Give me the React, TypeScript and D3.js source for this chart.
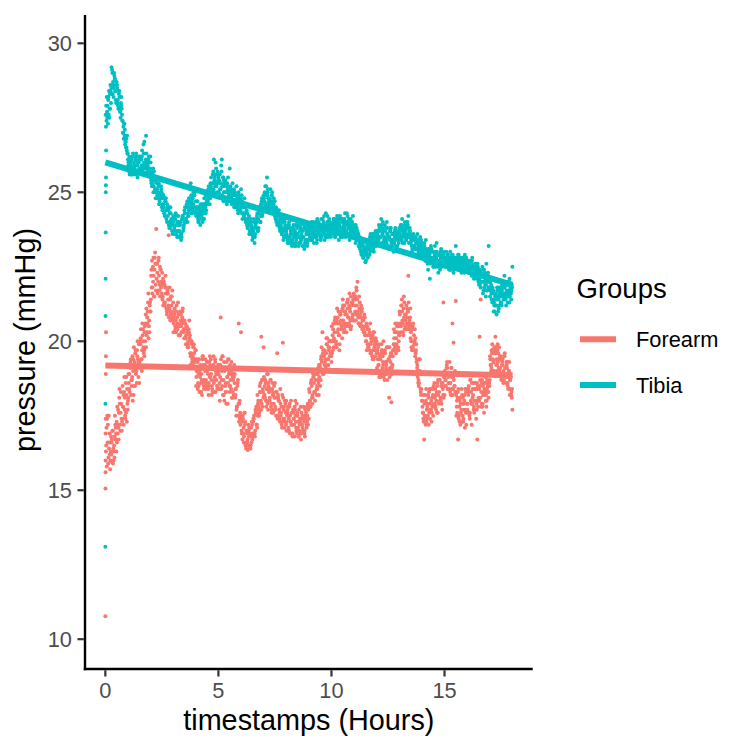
import React from "react";
import * as d3 from "d3";

// ---------- data ----------
const groups = ["Forearm", "Tibia"];
const groupColors = ["#F8766D", "#00BFC4"];
const xTicks = [0, 5, 10, 15];
const yTicks = [10, 15, 20, 25, 30];
const yLimits = [9.0, 30.95];
const sampleStep = 0.05; // hours between samples of each sample row

// linear-fit (geom_smooth, method = lm) coefficients
const fitIntercept = [19.19, 26.0];
const fitSlope = [-0.0183, -0.228];

// start-up ramp (first seconds of recording)
const forearmStartX = [0.0, 0.004, 0.008, 0.012, 0.016, 0.02, 0.024, 0.028];
const forearmStartY = [10.77, 15.06, 15.6, 16.0, 17.4, 18.9, 19.5, 20.3];
const tibiaStartX = [0.0, 0.004, 0.008, 0.012, 0.016, 0.02, 0.024, 0.028, 0.032];
const tibiaStartY = [13.1, 17.9, 20.85, 22.1, 23.65, 25.0, 25.24, 25.5, 26.4];

// Four interleaved sample rows per group; one line per hour (20 samples each).
// forearmY / tibiaY: samples at h+0.05 ... h+1.00
const forearmY = [
  17.1, 16.6, 17.5, 16.2, 16.8, 15.95, 16.4, 16.1, 16.7, 17.3, 16.9, 17.6, 17.2, 17.9, 17.4, 18.2, 17.7, 18.6, 17.3, 18.0,
  18.4, 19.1, 18.7, 19.5, 18.2, 19.3, 18.9, 19.7, 19.2, 18.6, 19.9, 19.4, 20.2, 19.6, 20.5, 19.8, 20.8, 21.6, 20.3, 21.0,
  21.8, 22.5, 21.5, 22.98, 23.77, 22.3, 22.7, 21.9, 22.4, 21.6, 22.1, 21.3, 21.8, 21.1, 21.7, 23.56, 21.0, 21.5, 20.8, 21.3,
  20.9, 20.4, 21.2, 20.6, 20.2, 21.0, 20.5, 20.8, 20.3, 20.7, 20.1, 20.5, 19.9, 20.3, 19.6, 20.0, 19.4, 19.8, 19.3, 19.7,
  19.1, 18.6, 19.4, 18.3, 18.9, 19.5, 18.5, 19.2, 18.7, 19.0, 18.4, 19.3, 18.8, 18.2, 19.1, 18.6, 19.4, 18.9, 18.4, 19.0,
  18.6, 20.8, 19.0, 18.2, 19.3, 18.5, 17.9, 18.8, 19.4, 18.3, 18.9, 18.1, 18.7, 19.2, 18.4, 17.7, 18.6, 20.6, 17.4, 20.3,
  17.3, 16.9, 17.6, 16.5, 17.0, 16.35, 16.8, 16.4, 17.1, 16.7, 17.4, 16.9, 17.6, 17.2, 17.9, 17.5, 18.3, 20.15, 17.8, 19.8,
  18.5, 18.0, 18.9, 17.7, 18.3, 18.7, 17.6, 18.2, 17.9, 18.6, 17.5, 19.6, 18.1, 17.4, 17.9, 17.2, 19.95, 17.8, 17.3, 18.0,
  17.6, 17.1, 17.9, 17.3, 16.9, 17.7, 17.2, 18.0, 17.0, 17.5, 16.8, 17.4, 16.7, 17.2, 17.8, 16.9, 17.5, 17.1, 17.9, 17.4,
  18.0, 18.6, 17.9, 18.8, 18.3, 18.9, 18.2, 18.7, 19.2, 18.5, 19.5, 20.3, 18.9, 19.7, 19.1, 19.9, 19.4, 20.0, 19.6, 19.3,
  20.2, 19.8, 20.7, 20.0, 21.1, 20.4, 19.7, 20.9, 20.5, 21.4, 20.3, 21.0, 20.6, 21.3, 20.8, 21.6, 20.4, 21.2, 20.7, 21.5,
  21.0, 21.8, 22.0, 20.6, 21.3, 20.8, 21.1, 20.4, 20.9, 20.2, 20.6, 19.9, 20.4, 19.7, 20.1, 19.5, 20.3, 19.8, 20.0, 19.6,
  19.4, 19.9, 18.9, 19.6, 19.1, 20.0, 18.7, 19.3, 19.8, 19.0, 18.1, 19.5, 17.95, 19.2, 19.9, 20.3, 19.6, 20.5, 19.8, 20.2,
  20.6, 21.2, 20.3, 21.5, 20.9, 20.4, 21.1, 22.2, 20.7, 20.1, 20.5, 19.8, 20.2, 19.5, 19.9, 19.2, 18.7, 19.4, 18.3, 18.0,
  17.6, 16.7, 18.2, 17.3, 17.9, 17.2, 18.4, 17.7, 18.1, 17.5, 18.6, 17.8, 18.3, 17.6, 18.9, 18.0, 18.5, 17.7, 21.3, 18.2,
  18.7, 19.2, 18.4, 18.9, 18.3, 19.1, 20.6, 19.95, 18.5, 21.35, 18.0, 16.7, 17.8, 17.2, 18.4, 17.5, 17.9, 17.1, 18.3, 17.6,
  18.2, 17.5, 18.7, 17.2, 18.4, 17.8, 18.9, 17.4, 16.7, 18.1, 20.15, 21.4, 17.9, 18.5, 17.6, 18.3, 17.8, 18.6, 18.1, 18.7,
  19.2, 19.6, 19.0, 19.8, 20.15, 19.4, 19.9, 19.1, 19.5, 18.8, 19.3, 18.6, 19.5, 18.9, 19.2, 18.5, 19.0, 18.7, 18.2, 17.7,
];

// samples at h+0.025 ... h+0.975
const forearmMidY = [
  16.3, 17.4, 15.9, 16.6, 16.0, 16.6, 17.0, 16.3, 17.5, 16.9, 17.8, 17.1, 18.4, 17.6, 17.0, 17.8, 18.3, 17.5, 18.8, 17.9,
  18.9, 18.3, 19.4, 18.7, 19.0, 18.5, 19.6, 19.0, 20.0, 19.3, 19.1, 20.4, 19.7, 20.0, 19.5, 20.6, 20.2, 21.0, 20.5, 21.3,
  22.2, 21.6, 22.8, 22.4, 21.9, 22.6, 21.7, 22.2, 21.5, 22.0, 21.4, 21.9, 21.2, 21.6, 20.9, 21.4, 21.1, 20.7, 21.2, 20.9,
  20.6, 21.0, 20.3, 20.8, 20.5, 20.2, 20.7, 20.3, 21.1, 20.4, 20.6, 20.2, 20.4, 19.8, 20.1, 19.5, 19.9, 19.2, 19.6, 19.4,
  18.8, 19.3, 18.5, 19.0, 18.6, 18.2, 19.2, 18.7, 19.4, 18.5, 19.1, 18.6, 19.5, 18.9, 18.4, 19.2, 18.7, 18.3, 19.1, 18.5,
  19.2, 18.8, 18.4, 19.5, 18.7, 19.0, 18.3, 19.1, 18.6, 19.0, 18.5, 19.3, 18.8, 18.2, 18.9, 18.4, 17.8, 17.5, 17.9, 17.2,
  17.0, 17.5, 16.6, 17.2, 16.4, 16.6, 17.2, 16.9, 16.5, 17.3, 16.8, 17.5, 17.0, 17.8, 18.2, 17.7, 18.5, 18.0, 18.7, 18.3,
  18.2, 18.7, 18.4, 17.9, 18.5, 18.1, 17.8, 18.4, 17.6, 18.1, 17.7, 18.3, 17.5, 18.0, 17.3, 17.6, 18.2, 17.4, 17.1, 17.6,
  17.3, 17.8, 17.0, 17.5, 17.2, 16.8, 17.4, 17.8, 17.3, 16.9, 17.3, 17.0, 16.9, 17.6, 17.1, 17.4, 16.8, 17.6, 17.3, 17.7,
  18.3, 17.8, 18.5, 18.1, 18.6, 18.0, 18.9, 18.4, 18.6, 19.0, 18.7, 19.3, 19.6, 19.0, 19.4, 20.1, 19.2, 19.8, 19.5, 20.0,
  19.6, 20.4, 20.0, 20.6, 19.8, 20.8, 20.2, 20.6, 21.0, 20.1, 20.7, 21.2, 20.5, 20.9, 21.4, 20.6, 21.0, 20.5, 21.3, 20.9,
  21.4, 20.7, 21.2, 20.9, 21.5, 20.5, 21.0, 20.7, 20.3, 20.8, 20.0, 20.5, 19.8, 20.2, 19.6, 20.0, 19.4, 20.1, 19.7, 19.9,
  19.7, 19.2, 19.5, 18.8, 19.7, 19.3, 18.9, 19.6, 19.2, 18.7, 19.4, 18.8, 19.6, 19.1, 19.7, 20.1, 20.6, 19.9, 20.3, 20.0,
  20.9, 20.5, 21.0, 20.2, 21.3, 20.7, 20.4, 21.0, 20.5, 20.8, 20.0, 20.4, 19.7, 20.0, 19.6, 19.4, 19.0, 18.6, 18.9, 18.4,
  17.8, 17.3, 17.5, 18.0, 17.4, 18.2, 17.6, 17.9, 17.3, 18.4, 17.9, 18.1, 17.7, 18.5, 18.2, 18.7, 18.1, 18.6, 18.4, 18.8,
  18.5, 18.9, 19.1, 18.6, 19.3, 18.2, 18.8, 18.4, 18.9, 18.3, 17.5, 18.1, 17.4, 18.0, 17.6, 18.2, 17.3, 18.0, 17.7, 18.4,
  17.9, 18.5, 17.6, 18.3, 17.9, 18.6, 18.0, 18.4, 17.7, 18.5, 18.0, 18.7, 18.3, 17.8, 18.2, 18.6, 18.0, 18.4, 18.9, 18.6,
  19.4, 19.1, 19.7, 19.3, 19.6, 19.8, 19.2, 19.6, 19.0, 19.4, 18.9, 19.2, 18.7, 19.1, 18.6, 19.3, 18.8, 18.4, 18.9, 18.1,
];

// samples at h+0.0125 ... h+0.9625
const forearmQ1Y = [
  16.9, 15.8, 17.2, 16.4, 15.7, 16.2, 17.0, 16.0, 16.8, 17.1, 16.6, 17.7, 18.1, 17.0, 17.4, 18.5, 17.2, 18.1, 17.6, 18.4,
  18.1, 18.9, 19.3, 18.5, 18.0, 19.8, 18.5, 19.0, 19.5, 18.8, 19.3, 20.1, 19.0, 20.4, 19.7, 20.0, 21.1, 20.6, 20.1, 21.2,
  21.4, 22.7, 22.0, 21.5, 22.6, 22.1, 21.6, 22.8, 22.5, 21.8, 22.3, 21.2, 21.9, 22.2, 21.0, 21.6, 20.8, 21.4, 21.0, 21.7,
  20.3, 21.1, 20.7, 20.5, 21.3, 20.9, 20.2, 20.6, 21.0, 20.4, 20.6, 19.9, 20.3, 20.0, 20.7, 19.2, 20.0, 19.5, 19.9, 19.1,
  18.5, 19.4, 18.9, 18.3, 19.2, 18.7, 19.5, 18.4, 19.0, 18.6, 19.3, 18.2, 18.8, 19.4, 18.5, 19.1, 18.3, 19.3, 18.7, 18.9,
  18.9, 18.0, 19.4, 18.5, 19.1, 18.0, 18.6, 19.3, 17.9, 18.9, 19.2, 18.4, 18.1, 18.9, 18.6, 18.2, 17.8, 18.7, 17.3, 17.6,
  17.5, 16.7, 17.1, 17.6, 16.6, 16.9, 16.5, 17.1, 16.4, 16.6, 16.9, 17.4, 16.8, 17.6, 17.1, 18.0, 17.6, 18.6, 17.9, 18.4,
  18.8, 18.1, 17.8, 18.4, 18.6, 18.0, 18.7, 17.7, 18.3, 18.5, 17.8, 18.3, 17.4, 18.0, 17.6, 17.5, 17.1, 18.1, 17.4, 17.9,
  17.0, 17.7, 17.4, 16.9, 18.0, 17.2, 17.6, 16.8, 17.5, 17.9, 17.1, 17.7, 17.3, 16.9, 17.5, 17.8, 17.0, 17.4, 17.8, 17.2,
  18.4, 17.8, 18.7, 18.2, 18.8, 18.3, 19.0, 18.5, 19.1, 18.8, 19.1, 19.8, 18.9, 19.5, 19.3, 19.6, 20.1, 19.2, 19.8, 20.0,
  20.5, 19.7, 20.1, 20.8, 19.9, 20.3, 21.0, 19.9, 20.7, 20.5, 21.2, 20.4, 20.9, 20.3, 21.1, 20.5, 21.1, 21.5, 20.8, 21.4,
  20.7, 21.5, 21.7, 21.0, 20.6, 20.9, 21.2, 20.4, 20.7, 20.3, 20.5, 19.7, 20.2, 19.9, 20.6, 19.6, 20.2, 19.4, 19.9, 20.1,
  19.1, 19.8, 18.8, 19.4, 19.9, 19.5, 18.8, 19.7, 19.1, 18.9, 19.0, 19.8, 19.3, 18.9, 19.5, 20.4, 19.8, 20.1, 20.6, 19.7,
  21.0, 20.3, 21.4, 20.6, 20.8, 20.5, 21.2, 20.8, 21.3, 20.6, 20.3, 19.7, 20.6, 19.9, 20.1, 19.3, 18.8, 18.5, 19.0, 18.2,
  18.0, 17.4, 17.9, 17.2, 17.7, 17.5, 18.3, 17.4, 18.0, 17.8, 18.5, 17.9, 18.2, 17.6, 18.7, 18.3, 18.9, 17.9, 18.6, 18.1,
  19.0, 18.5, 19.3, 18.8, 18.4, 18.6, 19.1, 18.2, 18.7, 19.0, 18.2, 17.6, 18.4, 17.3, 17.9, 17.3, 18.1, 17.7, 18.4, 17.2,
  17.7, 18.4, 17.4, 18.0, 18.6, 18.2, 17.6, 18.6, 17.9, 18.4, 18.0, 18.5, 17.8, 18.7, 18.2, 18.4, 18.8, 18.0, 18.5, 18.9,
  19.5, 19.0, 19.9, 19.3, 19.7, 19.6, 19.0, 19.3, 19.8, 19.1, 18.7, 19.4, 19.0, 19.6, 18.8, 19.1, 18.4, 19.3, 18.7, 18.3,
];

// samples at h+0.0375 ... h+0.9875
const forearmQ3Y = [
  16.5, 17.5, 16.1, 16.9, 16.3, 16.7, 15.9, 16.5, 17.2, 16.3, 17.2, 16.7, 17.9, 18.3, 17.3, 17.8, 18.8, 17.4, 18.2, 17.7,
  18.6, 19.2, 18.2, 18.8, 19.4, 19.1, 19.7, 18.6, 19.4, 19.9, 20.0, 19.4, 20.6, 19.8, 20.3, 20.9, 20.3, 21.3, 20.7, 21.0,
  22.4, 21.8, 22.2, 22.8, 21.7, 22.6, 22.0, 21.7, 22.4, 21.9, 21.5, 22.0, 21.3, 21.8, 21.6, 21.2, 21.8, 20.9, 21.5, 20.7,
  20.8, 20.5, 21.0, 20.4, 20.9, 20.5, 20.9, 20.3, 20.7, 20.1, 20.1, 20.5, 19.8, 20.4, 20.2, 19.6, 19.3, 19.8, 19.4, 19.7,
  19.0, 18.4, 19.1, 18.8, 18.3, 19.4, 18.6, 19.1, 18.4, 19.3, 18.9, 18.5, 19.2, 18.7, 18.3, 19.5, 18.8, 19.0, 18.5, 19.2,
  18.4, 19.2, 18.7, 19.5, 18.2, 19.1, 18.3, 18.8, 19.4, 18.5, 18.7, 19.0, 18.3, 18.8, 18.1, 17.5, 18.5, 17.9, 18.0, 17.4,
  16.9, 17.4, 16.8, 17.3, 17.0, 16.7, 17.0, 16.5, 16.8, 17.2, 17.3, 16.9, 17.7, 17.2, 17.5, 17.8, 18.3, 17.7, 18.7, 18.1,
  18.2, 18.6, 18.0, 18.9, 18.3, 18.4, 17.9, 18.6, 18.2, 17.7, 18.1, 17.5, 18.2, 17.7, 18.4, 17.8, 17.3, 17.7, 18.0, 17.2,
  17.5, 17.0, 17.8, 17.3, 17.6, 16.9, 17.4, 17.7, 17.1, 17.6, 16.8, 17.2, 17.8, 17.4, 17.0, 17.3, 17.7, 17.2, 17.5, 17.9,
  18.0, 18.6, 18.1, 18.9, 18.3, 18.7, 18.4, 18.9, 18.2, 19.2, 19.4, 19.0, 19.7, 19.2, 19.6, 19.9, 19.4, 19.7, 20.0, 19.5,
  20.0, 20.6, 20.3, 19.8, 20.7, 20.6, 20.2, 20.9, 20.4, 21.1, 20.6, 21.0, 20.5, 21.3, 20.8, 21.2, 20.7, 21.3, 20.9, 21.6,
  21.2, 20.9, 21.4, 20.8, 21.1, 20.6, 21.0, 20.5, 20.8, 20.2, 20.0, 20.4, 19.8, 20.3, 19.9, 20.0, 19.7, 20.3, 19.5, 20.0,
  19.6, 19.2, 19.5, 18.9, 19.7, 19.2, 19.6, 18.9, 19.3, 19.8, 19.4, 19.1, 19.6, 19.2, 19.7, 19.9, 20.3, 19.7, 20.5, 20.2,
  20.5, 21.2, 20.7, 21.1, 20.4, 20.9, 20.6, 21.0, 20.4, 21.1, 19.8, 20.5, 20.0, 20.4, 19.7, 19.1, 18.6, 19.4, 18.4, 18.9,
  17.6, 18.2, 17.5, 18.4, 17.8, 18.1, 17.7, 18.4, 17.6, 18.2, 17.8, 18.4, 18.0, 18.6, 17.9, 18.7, 18.0, 18.5, 18.2, 18.8,
  18.7, 19.1, 18.4, 18.9, 18.6, 18.9, 18.4, 18.8, 18.5, 18.3, 17.8, 18.3, 17.5, 18.1, 17.7, 17.9, 17.4, 18.2, 17.6, 17.9,
  18.3, 17.6, 18.7, 17.9, 18.1, 17.7, 18.4, 18.0, 18.6, 17.8, 18.4, 18.1, 18.6, 17.9, 18.3, 18.6, 18.2, 18.7, 18.3, 18.5,
  19.2, 19.7, 19.4, 19.0, 19.6, 19.2, 19.7, 19.4, 19.0, 19.5, 19.2, 18.9, 19.5, 19.1, 19.3, 18.6, 19.0, 18.2, 18.8, 18.4,
];

const tibiaY = [
  27.4, 27.9, 27.6, 28.3, 28.0, 29.1, 28.6, 28.9, 28.4, 28.7, 28.1, 28.3, 27.7, 27.9, 27.4, 27.2, 26.9, 26.7, 26.4, 26.1,
  25.7, 26.0, 25.6, 26.2, 25.8, 25.9, 26.1, 25.6, 26.0, 25.8, 26.2, 25.9, 25.7, 26.3, 25.9, 26.9, 25.8, 26.1, 25.7, 26.0,
  25.6, 25.3, 25.7, 25.1, 25.4, 24.9, 25.2, 24.7, 25.0, 24.5, 24.9, 24.3, 24.7, 24.1, 24.5, 23.9, 24.3, 24.0, 23.7, 24.2,
  23.8, 24.2, 23.6, 24.0, 23.5, 23.9, 23.4, 24.1, 23.8, 24.4, 24.0, 24.6, 24.3, 24.8, 24.4, 24.9, 24.5, 25.0, 24.3, 24.7,
  24.5, 24.1, 24.4, 23.9, 24.3, 24.0, 24.6, 24.4, 24.9, 24.6, 25.1, 24.8, 25.3, 24.9, 25.6, 26.1, 25.2, 25.8, 25.0, 25.5,
  25.3, 24.9, 26.1, 25.5, 25.0, 25.4, 24.8, 25.2, 24.7, 25.8, 25.1, 24.6, 25.0, 24.5, 24.9, 25.2, 24.6, 24.9, 24.4, 25.1,
  24.7, 24.3, 24.8, 24.1, 24.4, 23.8, 24.2, 23.6, 23.9, 23.4, 23.7, 23.3, 23.9, 24.2, 23.7, 24.4, 24.0, 24.6, 24.3, 24.9,
  25.0, 24.5, 25.5, 24.8, 24.4, 25.1, 24.6, 24.3, 24.8, 24.2, 24.5, 23.9, 24.3, 23.8, 24.1, 23.6, 24.0, 23.5, 23.9, 23.7,
  23.4, 23.9, 23.3, 23.7, 23.2, 23.8, 23.5, 23.3, 23.6, 23.9, 23.2, 23.7, 23.4, 24.0, 23.5, 23.1, 23.8, 23.4, 23.9, 23.6,
  23.5, 23.9, 23.4, 23.8, 23.6, 24.0, 23.3, 23.7, 23.9, 23.5, 24.1, 23.6, 24.0, 23.4, 24.3, 23.8, 23.5, 24.1, 23.7, 23.9,
  23.8, 24.1, 23.5, 23.9, 24.2, 23.6, 24.0, 23.7, 24.1, 23.5, 23.9, 24.3, 23.6, 24.0, 23.8, 23.4, 24.1, 23.7, 24.2, 23.6,
  23.8, 23.4, 23.7, 23.2, 23.5, 23.0, 23.3, 22.8, 23.1, 22.65, 23.0, 23.3, 22.9, 23.5, 23.2, 23.6, 23.1, 23.4, 23.7, 23.3,
  23.5, 23.9, 23.2, 24.1, 23.6, 23.3, 23.8, 23.4, 24.0, 23.5, 23.1, 23.7, 23.3, 23.6, 23.0, 23.5, 23.2, 23.7, 23.4, 23.8,
  23.5, 23.9, 23.3, 23.7, 24.0, 23.4, 23.8, 24.2, 23.5, 23.6, 23.2, 23.5, 22.9, 23.4, 23.1, 23.6, 23.0, 23.3, 22.9, 23.2,
  23.0, 23.3, 22.7, 23.1, 22.6, 22.9, 22.1, 23.2, 22.8, 22.5, 23.0, 22.7, 23.3, 22.5, 22.9, 22.4, 23.1, 22.6, 22.8, 22.5,
  22.8, 22.5, 22.9, 22.4, 23.0, 22.6, 22.8, 22.3, 22.7, 23.2, 22.5, 22.9, 22.4, 22.7, 22.3, 22.8, 22.5, 22.9, 22.4, 22.6,
  22.6, 22.3, 22.7, 22.2, 22.5, 22.1, 22.6, 22.3, 22.4, 22.0, 22.3, 21.8, 22.2, 21.6, 22.4, 21.9, 22.6, 21.7, 23.2, 22.0,
  21.8, 21.4, 22.1, 21.2, 21.6, 20.9, 21.5, 21.1, 21.8, 21.3, 21.9, 21.5, 22.2, 21.4, 21.7, 21.3, 22.0, 21.6, 21.4, 22.5,
];

const tibiaMidY = [
  27.2, 27.7, 28.1, 27.5, 28.6, 29.2, 28.3, 28.5, 28.8, 28.0, 28.5, 27.8, 28.2, 27.5, 27.8, 27.0, 27.3, 26.6, 26.8, 26.3,
  26.0, 25.6, 26.1, 25.8, 26.3, 25.7, 25.9, 26.2, 25.5, 26.0, 25.7, 26.1, 26.4, 25.8, 26.7, 26.0, 25.6, 25.9, 26.2, 25.8,
  25.4, 25.7, 25.0, 25.5, 24.8, 25.3, 25.0, 24.6, 24.8, 25.1, 24.4, 24.6, 24.2, 24.8, 24.0, 24.4, 23.8, 24.5, 24.0, 23.6,
  24.1, 23.7, 23.9, 23.5, 24.2, 23.7, 24.0, 23.5, 24.2, 23.9, 24.5, 24.1, 24.7, 24.2, 24.6, 25.3, 24.7, 24.4, 24.9, 24.5,
  24.3, 24.7, 24.0, 24.5, 24.2, 24.6, 24.3, 24.8, 24.5, 25.0, 24.7, 25.2, 24.9, 25.5, 25.1, 25.7, 25.4, 26.0, 25.3, 24.9,
  25.6, 25.1, 25.9, 25.2, 24.7, 25.3, 25.0, 24.6, 25.5, 24.9, 25.2, 24.8, 25.3, 24.7, 25.0, 24.5, 24.8, 24.3, 24.7, 24.4,
  24.9, 24.5, 24.2, 24.6, 24.0, 24.3, 23.9, 24.0, 23.6, 23.8, 23.5, 24.1, 23.6, 24.0, 24.3, 23.8, 24.5, 24.2, 24.8, 24.5,
  24.7, 25.2, 24.6, 25.0, 24.6, 24.8, 24.4, 25.0, 24.5, 24.7, 24.1, 24.4, 24.0, 24.4, 23.7, 24.2, 23.8, 23.4, 24.1, 23.5,
  23.8, 23.5, 24.0, 23.4, 23.6, 23.3, 23.9, 23.6, 23.2, 23.8, 23.5, 23.3, 23.8, 23.6, 23.2, 23.9, 23.3, 23.7, 23.2, 23.8,
  23.7, 23.4, 24.0, 23.6, 23.3, 23.9, 23.5, 24.1, 23.6, 23.8, 23.4, 23.9, 23.7, 24.2, 23.6, 23.9, 24.2, 23.6, 24.0, 23.5,
  23.6, 24.0, 23.8, 23.5, 24.1, 23.9, 23.4, 24.2, 23.8, 24.0, 23.7, 24.1, 23.5, 24.3, 23.9, 24.1, 23.6, 23.9, 23.5, 23.8,
  23.5, 23.9, 23.4, 23.6, 23.2, 23.4, 22.9, 23.2, 22.8, 23.1, 22.7, 23.2, 23.4, 23.1, 23.6, 23.3, 23.5, 23.0, 23.6, 23.2,
  23.7, 23.3, 23.8, 23.5, 23.9, 24.0, 23.4, 23.7, 23.2, 23.8, 23.5, 23.4, 23.8, 23.2, 23.6, 23.3, 23.8, 23.1, 23.6, 23.3,
  23.7, 23.4, 24.1, 23.6, 23.3, 23.8, 23.5, 23.9, 23.3, 23.7, 23.4, 23.1, 23.6, 23.2, 23.5, 22.9, 23.4, 23.1, 23.5, 23.0,
  22.8, 23.2, 22.9, 23.4, 22.8, 22.4, 23.0, 22.6, 23.1, 22.7, 22.5, 23.2, 22.6, 22.9, 22.3, 22.7, 23.0, 22.5, 22.9, 22.7,
  22.6, 23.0, 22.7, 22.5, 22.8, 22.4, 22.9, 22.6, 22.4, 22.8, 22.7, 22.4, 22.9, 22.5, 22.7, 22.4, 22.6, 22.3, 22.7, 22.5,
  22.4, 22.7, 22.5, 22.4, 22.8, 22.4, 22.2, 22.6, 22.1, 22.5, 21.9, 22.4, 22.0, 22.5, 21.7, 22.2, 21.5, 22.0, 22.3, 21.8,
  22.0, 21.6, 21.8, 21.0, 21.4, 21.2, 21.8, 21.0, 21.5, 21.7, 21.2, 21.8, 21.6, 22.0, 21.2, 21.9, 21.5, 22.1, 21.7, 21.9,
];

const tibiaQ1Y = [
  27.6, 28.2, 27.3, 28.4, 27.8, 28.5, 29.0, 28.2, 28.8, 28.1, 28.6, 27.9, 28.4, 27.7, 28.2, 27.4, 26.8, 27.1, 26.5, 26.9,
  25.9, 26.2, 25.7, 26.1, 25.8, 26.0, 25.6, 26.3, 25.9, 25.7, 26.1, 25.8, 26.2, 25.6, 26.0, 25.9, 26.3, 25.7, 26.0, 25.6,
  25.5, 25.2, 25.8, 25.4, 25.1, 25.0, 24.8, 25.3, 24.9, 25.2, 24.6, 24.9, 24.3, 24.7, 24.4, 24.2, 24.5, 23.8, 24.1, 23.9,
  24.0, 23.6, 24.3, 23.7, 23.9, 23.5, 24.0, 23.6, 24.2, 23.8, 24.3, 24.0, 24.6, 24.2, 24.7, 24.6, 24.3, 24.8, 24.5, 25.0,
  24.2, 24.5, 24.0, 24.3, 24.6, 24.2, 24.5, 24.1, 24.6, 24.4, 24.7, 25.0, 24.6, 25.2, 24.9, 25.3, 25.0, 25.6, 25.2, 25.7,
  25.0, 25.6, 25.3, 24.9, 25.5, 25.0, 25.3, 24.7, 25.1, 24.9, 24.8, 25.1, 24.6, 24.9, 24.7, 24.6, 24.9, 24.4, 24.8, 24.5,
  24.5, 24.1, 24.6, 24.3, 24.0, 23.9, 24.1, 23.6, 24.0, 23.7, 23.6, 24.0, 23.5, 23.8, 24.1, 24.1, 24.5, 24.0, 24.7, 24.4,
  24.8, 24.6, 25.2, 24.9, 24.5, 24.6, 24.3, 24.9, 24.5, 24.4, 24.2, 24.0, 24.4, 23.9, 24.2, 23.9, 23.6, 24.1, 23.5, 23.8,
  23.6, 23.3, 23.9, 23.5, 23.8, 23.4, 23.7, 23.2, 23.9, 23.5, 23.6, 23.3, 23.9, 23.4, 23.7, 23.5, 23.2, 23.8, 23.6, 23.4,
  23.6, 23.8, 23.4, 24.0, 23.5, 23.7, 23.9, 23.4, 23.8, 23.6, 23.9, 23.5, 24.1, 23.7, 23.8, 23.5, 24.0, 23.7, 23.9, 23.6,
  23.9, 23.7, 24.1, 23.6, 23.8, 24.0, 23.6, 23.9, 23.5, 24.1, 23.8, 23.6, 24.0, 23.7, 24.2, 23.6, 23.9, 23.8, 24.0, 23.7,
  23.6, 23.3, 23.8, 23.5, 23.4, 23.1, 23.3, 22.9, 23.2, 23.0, 22.9, 23.3, 22.8, 23.1, 23.0, 23.4, 23.1, 23.6, 23.3, 23.5,
  23.4, 23.7, 23.5, 23.2, 23.8, 23.6, 23.3, 23.9, 23.4, 23.6, 23.2, 23.5, 23.8, 23.4, 23.6, 23.3, 23.7, 23.5, 23.2, 23.6,
  23.6, 23.9, 23.4, 23.8, 23.5, 23.7, 23.4, 24.0, 23.6, 23.8, 23.3, 23.0, 23.4, 23.2, 23.5, 23.1, 23.3, 22.9, 23.2, 23.4,
  23.1, 22.8, 23.2, 22.7, 23.0, 22.9, 22.7, 23.1, 22.8, 23.0, 22.6, 22.9, 22.5, 23.0, 22.7, 22.9, 22.5, 22.8, 22.6, 23.0,
  22.7, 22.5, 22.9, 22.6, 22.8, 22.4, 22.7, 22.9, 22.5, 22.6, 22.8, 22.5, 22.7, 22.4, 22.8, 22.6, 22.4, 22.7, 22.5, 22.8,
  22.5, 22.3, 22.6, 22.4, 22.7, 22.3, 22.5, 22.2, 22.4, 22.6, 22.2, 21.9, 22.3, 22.0, 22.4, 21.8, 22.1, 21.7, 22.2, 22.0,
  21.5, 21.9, 21.3, 21.7, 21.0, 21.6, 21.4, 21.8, 21.2, 21.5, 21.6, 21.9, 21.4, 21.8, 21.5, 22.0, 21.6, 21.3, 21.8, 21.7,
];

const tibiaQ3Y = [
  27.9, 27.5, 28.2, 27.8, 28.4, 28.3, 28.7, 29.0, 28.4, 28.6, 28.0, 28.4, 27.8, 28.0, 27.6, 27.0, 27.3, 26.7, 26.5, 26.3,
  25.8, 26.1, 25.9, 25.6, 26.2, 25.8, 26.1, 25.7, 26.0, 26.2, 25.7, 26.1, 25.9, 26.6, 25.8, 26.1, 25.8, 26.0, 25.7, 26.2,
  25.3, 25.6, 25.2, 25.5, 25.0, 25.1, 24.9, 25.2, 24.8, 25.0, 24.8, 24.5, 24.8, 24.4, 24.6, 24.4, 24.0, 24.3, 23.9, 24.1,
  23.7, 24.1, 23.6, 24.0, 23.7, 23.9, 23.6, 24.1, 23.7, 24.0, 24.1, 24.5, 24.0, 24.4, 24.5, 24.4, 24.8, 24.6, 24.9, 24.3,
  24.4, 24.2, 24.5, 24.1, 24.3, 24.4, 24.1, 24.6, 24.3, 24.7, 24.8, 25.1, 24.8, 25.0, 25.3, 25.1, 25.5, 25.3, 25.6, 25.4,
  25.4, 25.1, 25.7, 25.2, 25.4, 25.2, 24.8, 25.3, 25.0, 25.1, 24.9, 25.0, 24.7, 25.1, 24.9, 24.7, 24.5, 25.0, 24.6, 24.8,
  24.3, 24.6, 24.2, 24.5, 24.1, 23.8, 23.9, 23.7, 24.1, 23.8, 23.8, 23.5, 23.9, 24.0, 23.7, 24.3, 24.0, 24.6, 24.2, 24.7,
  24.7, 24.9, 24.6, 25.1, 24.7, 24.5, 24.7, 24.4, 24.6, 24.7, 24.3, 24.1, 24.3, 24.0, 24.2, 23.7, 24.0, 23.7, 24.0, 23.6,
  23.5, 23.8, 23.4, 23.6, 23.3, 23.8, 23.5, 23.7, 23.4, 23.6, 23.9, 23.5, 23.3, 23.7, 23.5, 23.8, 23.4, 23.6, 23.3, 23.7,
  23.8, 23.5, 23.7, 23.6, 23.9, 23.5, 23.8, 23.6, 24.0, 23.7, 23.5, 23.8, 23.6, 23.9, 23.5, 23.8, 23.6, 24.0, 23.6, 23.8,
  23.7, 23.9, 23.6, 24.0, 23.7, 23.8, 24.1, 23.6, 23.8, 23.7, 24.0, 23.8, 23.9, 23.6, 24.0, 23.8, 23.7, 24.0, 23.7, 23.9,
  23.5, 23.7, 23.4, 23.6, 23.3, 23.2, 23.0, 23.3, 23.1, 22.9, 23.1, 22.9, 23.2, 22.9, 23.3, 23.3, 23.5, 23.2, 23.4, 23.6,
  23.6, 23.4, 23.7, 23.5, 23.3, 23.7, 23.5, 23.8, 23.3, 23.6, 23.5, 23.7, 23.4, 23.6, 23.4, 23.7, 23.4, 23.6, 23.5, 23.5,
  23.8, 23.5, 23.7, 23.6, 23.9, 23.6, 23.8, 23.5, 23.7, 23.5, 23.4, 23.2, 23.5, 23.1, 23.3, 23.4, 23.2, 23.4, 23.1, 23.3,
  22.9, 23.1, 22.8, 23.0, 22.9, 23.1, 22.9, 22.8, 23.0, 22.8, 22.8, 22.6, 22.8, 22.7, 22.9, 22.7, 22.8, 22.6, 22.9, 22.6,
  22.6, 22.8, 22.7, 22.6, 22.7, 22.6, 22.8, 22.5, 22.8, 22.7, 22.6, 22.8, 22.6, 22.7, 22.5, 22.7, 22.6, 22.8, 22.6, 22.7,
  22.4, 22.6, 22.4, 22.6, 22.3, 22.5, 22.4, 22.5, 22.3, 22.4, 22.1, 22.3, 22.0, 22.2, 22.0, 22.3, 21.9, 22.2, 21.8, 22.1,
  21.7, 21.4, 21.6, 21.3, 21.5, 21.2, 21.7, 21.4, 21.6, 21.3, 21.7, 21.5, 21.8, 21.6, 21.9, 21.5, 21.7, 21.5, 21.6, 21.8,
];

// ---------- helpers ----------
type Pt = [number, number];

function buildPoints(
  sx: number[],
  sy: number[],
  rows: { offset: number; values: number[] }[]
): Pt[] {
  const pts: Pt[] = sx.map((v, i) => [v, sy[i]]);
  const n = rows[0].values.length;
  for (let i = 0; i < n; i++) {
    for (const r of rows) pts.push([(i + r.offset) * sampleStep, r.values[i]]);
  }
  return pts;
}

const FONT = "'Liberation Sans', Arial, Helvetica, sans-serif";

export default function App() {
  const W = 750;
  const H = 750;
  const panel = { left: 85, right: 532.7, top: 15, bottom: 669 };

  const series = [
    {
      name: groups[0],
      color: groupColors[0],
      pts: buildPoints(forearmStartX, forearmStartY, [
        { offset: 0.25, values: forearmQ1Y },
        { offset: 0.5, values: forearmMidY },
        { offset: 0.75, values: forearmQ3Y },
        { offset: 1, values: forearmY },
      ]),
    },
    {
      name: groups[1],
      color: groupColors[1],
      pts: buildPoints(tibiaStartX, tibiaStartY, [
        { offset: 0.25, values: tibiaQ1Y },
        { offset: 0.5, values: tibiaMidY },
        { offset: 0.75, values: tibiaQ3Y },
        { offset: 1, values: tibiaY },
      ]),
    },
  ];

  const allX = series.flatMap((s) => s.pts.map((p) => p[0]));
  const [x0, x1] = d3.extent(allX) as [number, number];
  const xpad = (x1 - x0) * 0.05;

  const x = d3.scaleLinear().domain([x0 - xpad, x1 + xpad]).range([panel.left, panel.right]);
  const y = d3.scaleLinear().domain(yLimits).range([panel.bottom, panel.top]);

  const lineGen = d3
    .line<Pt>()
    .x((d) => x(d[0]))
    .y((d) => y(d[1]));

  const fits = series.map((s, gi) => {
    const a = fitIntercept[gi];
    const b = fitSlope[gi];
    const [lo, hi] = d3.extent(s.pts, (p) => p[0]) as [number, number];
    const seg: Pt[] = [
      [lo, a + b * lo],
      [hi, a + b * hi],
    ];
    return { color: s.color, d: lineGen(seg) as string };
  });

  const tickColor = "#333333";
  const labelColor = "#4D4D4D";
  const axisW = 2.4;

  return (
    <svg
      width={W}
      height={H}
      viewBox={`0 0 ${W} ${H}`}
      style={{ position: "absolute", left: 0, top: 0, background: "#ffffff" }}
      fontFamily={FONT}
    >
      <rect x={0} y={0} width={W} height={H} fill="#ffffff" />

      {/* points */}
      {series.map((s) => (
        <g key={s.name} fill={s.color}>
          {s.pts.map((p, i) => (
            <circle key={i} cx={x(p[0])} cy={y(p[1])} r={2.0} />
          ))}
        </g>
      ))}

      {/* regression lines */}
      {fits.map((f, i) => (
        <path key={i} d={f.d} stroke={f.color} strokeWidth={6} fill="none" strokeLinecap="butt" />
      ))}

      {/* axes */}
      <line
        x1={panel.left}
        x2={panel.left}
        y1={panel.top}
        y2={panel.bottom + axisW / 2}
        stroke="#000"
        strokeWidth={axisW}
      />
      <line
        x1={panel.left - axisW / 2}
        x2={panel.right}
        y1={panel.bottom}
        y2={panel.bottom}
        stroke="#000"
        strokeWidth={axisW}
      />

      {/* y ticks */}
      {yTicks.map((t) => (
        <g key={`y${t}`}>
          <line
            x1={panel.left - 7.5}
            x2={panel.left - axisW / 2}
            y1={y(t)}
            y2={y(t)}
            stroke={tickColor}
            strokeWidth={2.2}
          />
          <text x={72} y={y(t) + 7.8} textAnchor="end" fontSize={21.8} fill={labelColor}>
            {t}
          </text>
        </g>
      ))}

      {/* x ticks */}
      {xTicks.map((t) => (
        <g key={`x${t}`}>
          <line
            x1={x(t)}
            x2={x(t)}
            y1={panel.bottom + axisW / 2}
            y2={panel.bottom + 7.5}
            stroke={tickColor}
            strokeWidth={2.2}
          />
          <text x={x(t)} y={698} textAnchor="middle" fontSize={21.8} fill={labelColor}>
            {t}
          </text>
        </g>
      ))}

      {/* axis titles */}
      <text
        x={(panel.left + panel.right) / 2}
        y={730}
        textAnchor="middle"
        fontSize={28.8}
        fill="#000"
      >
        timestamps (Hours)
      </text>
      <text
        transform={`translate(35, ${(panel.top + panel.bottom) / 2 - 2}) rotate(-90)`}
        textAnchor="middle"
        fontSize={28.8}
        fill="#000"
      >
        pressure (mmHg)
      </text>

      {/* legend */}
      <text x={576.5} y={298.3} fontSize={27.5} fill="#000">
        Groups
      </text>
      {series.map((s, i) => {
        const ky = [339.3, 385][i];
        return (
          <g key={`leg${s.name}`}>
            <line x1={580} x2={616} y1={ky} y2={ky} stroke={s.color} strokeWidth={6} />
            <text x={636} y={ky + 8} fontSize={21.8} fill="#000">
              {s.name}
            </text>
          </g>
        );
      })}
    </svg>
  );
}
